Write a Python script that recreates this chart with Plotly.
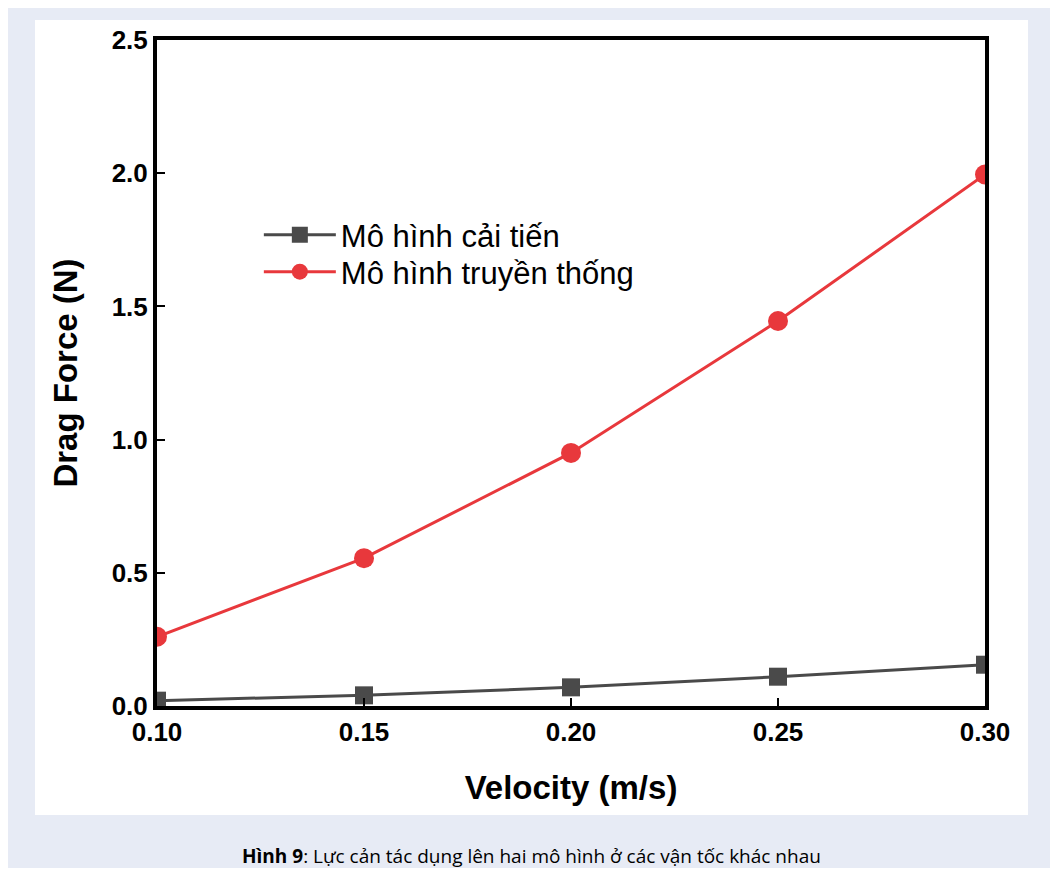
import plotly.graph_objects as go

velocity = [0.10, 0.15, 0.20, 0.25, 0.30]
improved = [0.02, 0.04, 0.07, 0.11, 0.155]
traditional = [0.26, 0.555, 0.95, 1.445, 1.995]
x_ticks = [0.10, 0.15, 0.20, 0.25, 0.30]
x_tick_labels = ["0.10", "0.15", "0.20", "0.25", "0.30"]
y_ticks = [0.0, 0.5, 1.0, 1.5, 2.0, 2.5]
y_tick_labels = ["0.0", "0.5", "1.0", "1.5", "2.0", "2.5"]
name_improved = "Mô hình cải tiến"
name_traditional = "Mô hình truyền thống"
caption_bold = "Hình 9"
caption_rest = ": Lực cản tác dụng lên hai mô hình ở các vận tốc khác nhau"

W, H = 1047, 860
L, R, T, B = 149, 70, 32, 162
PW, PH = W - L - R, H - T - B

def fx(px):  # figure pixel -> paper x
    return (px - L) / PW

def fy(py):  # figure pixel -> paper y
    return (H - B - py) / PH

fig = go.Figure()
fig.add_trace(go.Scatter(
    x=velocity, y=improved, name=name_improved, mode="lines+markers",
    line=dict(color="#4a4a4a", width=3),
    marker=dict(symbol="square", size=18, color="#4a4a4a"),
    legend="legend",
))
fig.add_trace(go.Scatter(
    x=velocity, y=traditional, name=name_traditional, mode="lines+markers",
    line=dict(color="#e8383c", width=3),
    marker=dict(symbol="circle", size=20, color="#e8383c"),
    legend="legend2",
))

axis_font = dict(family="Liberation Sans, Arial", size=26, color="black", weight="bold")
title_font = dict(family="Liberation Sans, Arial", size=33, color="black", weight="bold")
legend_font = dict(family="Liberation Sans, Arial", size=31, color="black")
fig.update_layout(
    width=W, height=H,
    paper_bgcolor="#e7ebf5",
    plot_bgcolor="white",
    margin=dict(l=L, r=R, t=T, b=B),
    showlegend=True,
    legend=dict(x=0.123, y=fy(227), xanchor="left", yanchor="middle",
                bgcolor="rgba(0,0,0,0)", font=legend_font, itemwidth=72),
    legend2=dict(x=0.123, y=fy(264), xanchor="left", yanchor="middle",
                 bgcolor="rgba(0,0,0,0)", font=legend_font, itemwidth=72),
    shapes=[
        dict(type="rect", xref="paper", yref="paper",
             x0=fx(27), x1=fx(1020), y0=fy(807), y1=fy(12),
             fillcolor="white", line=dict(width=0), layer="below"),
    ],
    annotations=[
        dict(xref="paper", yref="paper", x=fx(523), y=fy(848),
             xanchor="center", yanchor="middle", showarrow=False,
             text="<b>" + caption_bold + "</b>" + caption_rest,
             font=dict(family="Open Sans", size=19, color="black")),
    ],
)
fig.update_xaxes(
    range=[0.10, 0.30], tickvals=x_ticks, ticktext=x_tick_labels,
    tickfont=axis_font, showgrid=False, zeroline=False,
    showline=True, linecolor="black", linewidth=4, mirror=True,
    ticks="inside", ticklen=8, tickwidth=2, tickcolor="black",
    title=dict(text="Velocity (m/s)", font=title_font, standoff=31),
)
fig.update_yaxes(
    range=[0, 2.5], tickvals=y_ticks, ticktext=y_tick_labels,
    tickfont=axis_font, showgrid=False, zeroline=False,
    showline=True, linecolor="black", linewidth=4, mirror=True,
    ticks="inside", ticklen=8, tickwidth=2, tickcolor="black",
    title=dict(text="Drag Force (N)", font=title_font, standoff=25),
)

fig.write_html("out.html")
